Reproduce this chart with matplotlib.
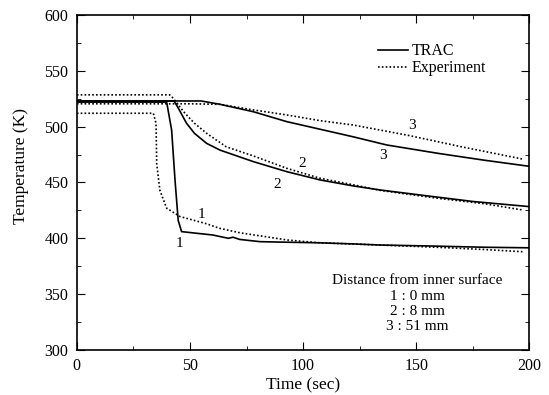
import matplotlib
matplotlib.use("Agg")
import matplotlib.pyplot as plt
from matplotlib.ticker import MultipleLocator

plt.rcParams['font.family'] = ['Liberation Serif', 'DejaVu Serif']

# TRAC (calculation), solid lines
time_trac1 = [0, 39.7, 41.9, 43.4, 44.8, 46.3, 53, 60, 67, 69, 72, 81, 93, 107, 122, 134, 159, 180, 200]
temp_trac1 = [522, 522, 497, 452, 416, 406, 404.5, 403, 400, 401, 399, 397, 396.5, 396, 395, 394, 393, 392, 391.5]
time_trac2 = [0, 43, 45, 48.5, 52, 57.4, 63.3, 78, 92.8, 107.5, 122, 134, 155, 175, 200]
temp_trac2 = [523, 523, 516, 503, 494, 485, 479, 468.7, 459.7, 452.3, 447, 443.3, 438, 433, 428.4]
time_trac3 = [0, 55, 63.3, 78, 92.8, 107.5, 122, 137, 160, 180, 200]
temp_trac3 = [523, 523, 520, 513.4, 504.5, 497.7, 491, 483.6, 476, 470, 464.5]

# Experiment, dotted lines
time_exp1 = [0, 33.8, 35, 35.3, 36.7, 39.7, 45.6, 57.4, 63, 72, 80, 93, 107, 134, 159, 180, 197]
temp_exp1 = [512, 512, 503, 467, 443, 427, 419.5, 413, 409, 405, 402.5, 398.5, 396, 394, 392, 390, 388]
time_exp2 = [0, 41, 42.6, 45, 47.8, 52, 57.4, 66, 78, 92.8, 107.5, 122, 134, 159, 180, 197]
temp_exp2 = [528.5, 528.5, 525.5, 519, 512, 503, 494, 482, 473.8, 462.7, 453.8, 448, 443, 436, 431, 425.4]
time_exp3 = [0, 50, 63.3, 78, 92.8, 107.5, 122, 134, 147, 170, 197]
temp_exp3 = [520.5, 520.5, 520, 515, 510.5, 505.4, 501.5, 497, 492, 482, 471]

# curve labels: (x, y, text)
curve_labels = [(55, 421, '1'), (45.3, 395.6, '1'), (99.4, 466.6, '2'), (88.6, 447.8, '2'),
                (148, 501, '3'), (135.5, 473.8, '3')]
note_lines = ['Distance from inner surface', '1 : 0 mm', '2 : 8 mm', '3 : 51 mm']

fig = plt.figure(figsize=(5.49, 3.95), dpi=100)
ax = fig.add_axes([0.140, 0.114, 0.824, 0.848])

dot = (0, (1, 1.3))
ax.plot(time_trac1, temp_trac1, color='black', lw=1.2, label='TRAC')
ax.plot(time_trac2, temp_trac2, color='black', lw=1.2)
ax.plot(time_trac3, temp_trac3, color='black', lw=1.2)
ax.plot(time_exp1, temp_exp1, color='black', lw=1.2, linestyle=dot, label='Experiment')
ax.plot(time_exp2, temp_exp2, color='black', lw=1.2, linestyle=dot)
ax.plot(time_exp3, temp_exp3, color='black', lw=1.2, linestyle=dot)

for x, y, s in curve_labels:
    ax.text(x, y, s, fontsize=11, ha='center', va='center')

ax.text(150.5, 362, note_lines[0], fontsize=11, ha='center', va='center')
for i, s in enumerate(note_lines[1:]):
    ax.text(150.5, 347.5 - i * 13.2, s, fontsize=11, ha='center', va='center')

ax.set_xlim(0, 200)
ax.set_ylim(300, 600)
ax.xaxis.set_major_locator(MultipleLocator(50))
ax.xaxis.set_minor_locator(MultipleLocator(25))
ax.yaxis.set_major_locator(MultipleLocator(50))
ax.yaxis.set_minor_locator(MultipleLocator(25))
ax.tick_params(which='both', direction='in', top=True, right=True, labelsize=11.5)
ax.tick_params(which='major', length=6, pad=6)
ax.tick_params(which='minor', length=3)
for sp in ax.spines.values():
    sp.set_linewidth(1.2)

ax.set_xlabel('Time (sec)', fontsize=12.5, labelpad=2)
ax.set_ylabel('Temperature (K)', fontsize=12.5)
ax.yaxis.set_label_coords(-0.105, 0.55)

ax.legend(loc='upper left', bbox_to_anchor=(0.665, 0.915), frameon=False, fontsize=11.5,
          handlelength=1.9, handletextpad=0.2, labelspacing=0.05, borderaxespad=0, borderpad=0)

fig.savefig('out.png', dpi=100)
